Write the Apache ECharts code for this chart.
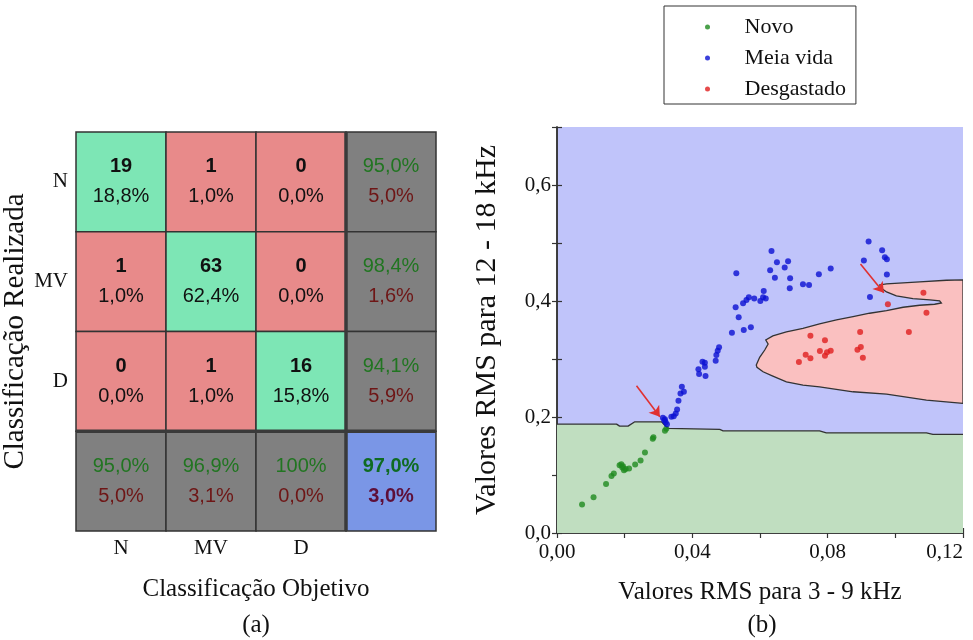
<!DOCTYPE html>
<html>
<head>
<meta charset="utf-8">
<script src="https://cdn.jsdelivr.net/npm/echarts@6/dist/echarts.min.js"></script>
<style>
  html, body { margin: 0; padding: 0; background: #fff; }
  #chart { width: 973px; height: 640px; }
</style>
</head>
<body>
<div id="chart"></div>
<script>
// ---- (a) confusion matrix ----
const classes = ['N', 'MV', 'D'];
const counts = [[19, 1, 0], [1, 63, 0], [0, 1, 16]];
const cellShare = [[18.8, 1.0, 0.0], [1.0, 62.4, 0.0], [0.0, 1.0, 15.8]];
const rowHit = [95.0, 98.4, 94.1];
const rowMiss = [5.0, 1.6, 5.9];
const colHit = [95.0, 96.9, 100];
const colMiss = [5.0, 3.1, 0.0];
const totalHit = 97.0;
const totalMiss = 3.0;

// ---- (b) RMS scatter with decision regions ----
const novoPts = [
  [0.0074, 0.0490], [0.0108, 0.0616], [0.0145, 0.0846], [0.0161, 0.0984], [0.0168, 0.1025],
  [0.0185, 0.1169], [0.0190, 0.1186], [0.0193, 0.1129], [0.0198, 0.1083], [0.0203, 0.1105],
  [0.0213, 0.1112], [0.0231, 0.1181], [0.0247, 0.1250], [0.0260, 0.1388], [0.0283, 0.1623],
  [0.0285, 0.1653], [0.0319, 0.1761], [0.0323, 0.1796], [0.0195, 0.1150]
];
const meiaVidaPts = [
  [0.0313, 0.1986], [0.0317, 0.1946], [0.0321, 0.1911], [0.0325, 0.1877], [0.0319, 0.1960],
  [0.0338, 0.2003], [0.0345, 0.2015], [0.0351, 0.2062], [0.0355, 0.2131], [0.0359, 0.2279],
  [0.0365, 0.2407], [0.0369, 0.2521], [0.0375, 0.2435],
  [0.0418, 0.2822], [0.0420, 0.2740], [0.0430, 0.2953], [0.0437, 0.2936], [0.0437, 0.2866], [0.0439, 0.2706],
  [0.0469, 0.2970], [0.0471, 0.3068], [0.0475, 0.3143], [0.0479, 0.3201],
  [0.0517, 0.3454], [0.0528, 0.3892], [0.0530, 0.4479], [0.0537, 0.3719],
  [0.0552, 0.3500], [0.0573, 0.3547], [0.0550, 0.3961], [0.0560, 0.4018], [0.0567, 0.4065],
  [0.0583, 0.4041], [0.0601, 0.4001], [0.0609, 0.4065], [0.0611, 0.4174], [0.0617, 0.4041],
  [0.0634, 0.4864], [0.0630, 0.4531], [0.0644, 0.4403], [0.0650, 0.4669], [0.0673, 0.4576],
  [0.0683, 0.4687], [0.0689, 0.4393], [0.0688, 0.4220], [0.0727, 0.4289], [0.0745, 0.4277],
  [0.0774, 0.4462], [0.0809, 0.4559],
  [0.0907, 0.4697], [0.0921, 0.5025], [0.0925, 0.4070], [0.0961, 0.4877], [0.0969, 0.4756],
  [0.0975, 0.4721], [0.0975, 0.4455]
];
const desgastadoPts = [
  [0.0715, 0.2948], [0.0735, 0.3074], [0.0749, 0.3402], [0.0749, 0.3011], [0.0777, 0.3138],
  [0.0792, 0.3322], [0.0792, 0.3057], [0.0798, 0.3115], [0.0809, 0.3143], [0.0888, 0.3160],
  [0.0896, 0.3466], [0.0898, 0.3207], [0.0904, 0.3022], [0.0978, 0.3944], [0.1040, 0.3466],
  [0.1083, 0.4144], [0.1092, 0.3799]
];
// upper edge of the "Novo" decision region
const novoBoundary = [
  [0, 0.1877], [0.0176, 0.1877], [0.0185, 0.1842], [0.0210, 0.1842], [0.0230, 0.1917],
  [0.0309, 0.1917], [0.0328, 0.1803], [0.0481, 0.1785], [0.0491, 0.1761], [0.0776, 0.1761],
  [0.0796, 0.1727], [0.1092, 0.1727], [0.1111, 0.1699], [0.12, 0.1699]
];
// outline of the "Desgastado" decision region
const desgastadoRegion = [
  [0.1200, 0.2234], [0.1092, 0.2291], [0.0974, 0.2395], [0.0875, 0.2435], [0.0776, 0.2521],
  [0.0727, 0.2550], [0.0678, 0.2607], [0.0638, 0.2706], [0.0609, 0.2780], [0.0591, 0.2856],
  [0.0589, 0.2896], [0.0599, 0.3029], [0.0614, 0.3155], [0.0624, 0.3258], [0.0617, 0.3328],
  [0.0638, 0.3397], [0.0678, 0.3466], [0.0727, 0.3529], [0.0776, 0.3604], [0.0826, 0.3673],
  [0.0875, 0.3730], [0.0924, 0.3789], [0.0974, 0.3834], [0.1023, 0.3892], [0.1072, 0.3927],
  [0.1116, 0.3944], [0.1136, 0.3966], [0.1131, 0.4001], [0.1102, 0.4018], [0.1052, 0.4041],
  [0.1003, 0.4087], [0.0974, 0.4156], [0.0959, 0.4220], [0.0954, 0.4277], [0.0974, 0.4294],
  [0.1072, 0.4329], [0.1151, 0.4358], [0.1200, 0.4364]
];
const arrowSegments = [
  [[0.0235, 0.2538], [0.0304, 0.2003]],
  [[0.0897, 0.4640], [0.0966, 0.4144]]
];

const SERIF = "'Liberation Serif', 'Times New Roman', serif";
const SANS = "'Liberation Sans', Arial, Helvetica, sans-serif";

const C_GOOD = '#7de6b5', C_BAD = '#e88a8a', C_SUM = '#808080', C_TOTAL = '#7a96e6';
const T_GREEN = '#217521', T_RED = '#6e1616';

function pct(v) {
  return (v === 100 ? '100' : v.toFixed(1).replace('.', ',')) + '%';
}

// one record per matrix cell (row-major, 4x4 including the summaries)
const cells = [];
for (let r = 0; r < 4; r++) {
  for (let c = 0; c < 4; c++) {
    let cell;
    if (r < 3 && c < 3) {
      cell = {
        fill: r === c ? C_GOOD : C_BAD,
        top: String(counts[r][c]), topColor: '#111', topBold: true,
        bottom: pct(cellShare[r][c]), bottomColor: '#111', bottomBold: false
      };
    } else if (r < 3) {
      cell = { fill: C_SUM, top: pct(rowHit[r]), topColor: T_GREEN, topBold: false,
               bottom: pct(rowMiss[r]), bottomColor: T_RED, bottomBold: false };
    } else if (c < 3) {
      cell = { fill: C_SUM, top: pct(colHit[c]), topColor: T_GREEN, topBold: false,
               bottom: pct(colMiss[c]), bottomColor: T_RED, bottomBold: false };
    } else {
      cell = { fill: C_TOTAL, top: pct(totalHit), topColor: '#0f6b22', topBold: true,
               bottom: pct(totalMiss), bottomColor: '#5e0f38', bottomBold: true };
    }
    cell.value = [c, r];
    cells.push(cell);
  }
}

function xTickLabel(v) {
  return Math.round(v * 100) % 4 === 0 ? v.toFixed(2).replace('.', ',') : '';
}
function yTickLabel(v) {
  return Math.round(v * 10) % 2 === 0 ? v.toFixed(1).replace('.', ',') : '';
}

const axisLine = { show: true, lineStyle: { color: '#333', width: 1.5 } };
const tickIn = { show: true, inside: true, length: 5, lineStyle: { color: '#333', width: 1.2 } };

const chart = echarts.init(document.getElementById('chart'), null, { renderer: 'canvas' });

const option = {
  animation: false,
  backgroundColor: '#fff',
  grid: [
    { left: 76, top: 132, width: 360, height: 399, containLabel: false, outerBoundsMode: 'none' },
    { left: 557, top: 127, width: 406, height: 406, containLabel: false, outerBoundsMode: 'none',
      show: true, backgroundColor: '#c0c4fa', borderWidth: 0 }
  ],
  legend: {
    data: ['Novo', 'Meia vida', 'Desgastado'],
    orient: 'vertical',
    left: 664, top: 6,
    padding: [10, 10, 4, 41],
    itemWidth: 64, itemHeight: 5, itemGap: 9,
    icon: 'circle',
    borderColor: '#333', borderWidth: 1,
    textStyle: { fontFamily: SERIF, fontSize: 22, color: '#111', lineHeight: 22 }
  },
  xAxis: [
    {
      gridIndex: 0, type: 'category', data: classes.concat(['']),
      axisLine: { show: false }, axisTick: { show: false }, splitLine: { show: false },
      axisLabel: { margin: 7, fontFamily: SERIF, fontSize: 21, color: '#111' },
      name: 'Classificação Objetivo', nameLocation: 'middle', nameGap: 46,
      nameTextStyle: { fontFamily: SERIF, fontSize: 25, color: '#111' }
    },
    {
      gridIndex: 1, type: 'value', min: 0, max: 0.12, interval: 0.02, position: 'bottom',
      axisLine: axisLine, axisTick: tickIn, splitLine: { show: false },
      axisLabel: { margin: 9, fontFamily: SERIF, fontSize: 21, color: '#111', formatter: xTickLabel,
                   showMinLabel: true, showMaxLabel: true, hideOverlap: false, alignMaxLabel: 'right' },
      name: 'Valores RMS para 3 - 9 kHz', nameLocation: 'middle', nameGap: 47,
      nameTextStyle: { fontFamily: SERIF, fontSize: 25, color: '#111' }
    },
    {
      gridIndex: 1, type: 'value', min: 0, max: 0.12, interval: 0.02, position: 'top',
      axisLine: axisLine, axisTick: tickIn, splitLine: { show: false }, axisLabel: { show: false }
    }
  ],
  yAxis: [
    {
      gridIndex: 0, type: 'category', data: classes.concat(['']), inverse: true,
      axisLine: { show: false }, axisTick: { show: false }, splitLine: { show: false },
      axisLabel: { margin: 8, fontFamily: SERIF, fontSize: 21, color: '#111', padding: [9, 0, 0, 0] },
      name: 'Classificação Realizada', nameLocation: 'middle', nameGap: 36, nameRotate: 90,
      nameTextStyle: { fontFamily: SERIF, fontSize: 29, color: '#111' }
    },
    {
      gridIndex: 1, type: 'value', min: 0, max: 0.7, interval: 0.1, position: 'left',
      axisLine: axisLine, axisTick: tickIn, splitLine: { show: false },
      axisLabel: { margin: 6, fontFamily: SERIF, fontSize: 21, color: '#111', formatter: yTickLabel,
                   showMinLabel: true, hideOverlap: false },
      name: 'Valores RMS para 12 - 18 kHz', nameLocation: 'middle', nameGap: 55, nameRotate: 90,
      nameTextStyle: { fontFamily: SERIF, fontSize: 30, color: '#111' }
    },
    {
      gridIndex: 1, type: 'value', min: 0, max: 0.7, interval: 0.1, position: 'right',
      axisLine: axisLine, axisTick: tickIn, splitLine: { show: false }, axisLabel: { show: false }
    }
  ],
  graphic: [
    { type: 'text', x: 256, y: 625,
      style: { text: '(a)', fontFamily: SERIF, fontSize: 25, fill: '#111', align: 'center', verticalAlign: 'middle' } },
    { type: 'text', x: 762, y: 625,
      style: { text: '(b)', fontFamily: SERIF, fontSize: 25, fill: '#111', align: 'center', verticalAlign: 'middle' } }
  ],
  series: [
    // matrix cells
    {
      type: 'custom', name: 'matriz', xAxisIndex: 0, yAxisIndex: 0, silent: true,
      data: cells.map(c => c.value),
      renderItem: function (params, api) {
        const cell = cells[params.dataIndex];
        const ctr = api.coord([api.value(0), api.value(1)]);
        const sz = api.size([1, 1]);
        return {
          type: 'group',
          children: [
            { type: 'rect',
              shape: { x: ctr[0] - sz[0] / 2, y: ctr[1] - sz[1] / 2, width: sz[0], height: sz[1] },
              style: { fill: cell.fill, stroke: '#333', lineWidth: 1.5 } },
            { type: 'text', x: ctr[0], y: ctr[1] - 15,
              style: { text: cell.top, fill: cell.topColor, fontFamily: SANS, fontSize: 20,
                       fontWeight: cell.topBold ? 'bold' : 'normal', align: 'center', verticalAlign: 'middle' } },
            { type: 'text', x: ctr[0], y: ctr[1] + 15,
              style: { text: cell.bottom, fill: cell.bottomColor, fontFamily: SANS, fontSize: 20,
                       fontWeight: cell.bottomBold ? 'bold' : 'normal', align: 'center', verticalAlign: 'middle' } }
          ]
        };
      }
    },
    // heavier separators before the summary row / column
    {
      type: 'custom', name: 'separadores', xAxisIndex: 0, yAxisIndex: 0, silent: true, z: 5,
      data: [[3, 3]],
      renderItem: function (params, api) {
        const ctr = api.coord([3, 3]);
        const sz = api.size([1, 1]);
        const cs = params.coordSys;
        const xs = ctr[0] - sz[0] / 2, ys = ctr[1] - sz[1] / 2;
        const st = { stroke: '#3a3a3a', lineWidth: 3.5 };
        return {
          type: 'group',
          children: [
            { type: 'line', shape: { x1: xs, y1: cs.y, x2: xs, y2: cs.y + cs.height }, style: st },
            { type: 'line', shape: { x1: cs.x, y1: ys, x2: cs.x + cs.width, y2: ys }, style: st }
          ]
        };
      }
    },
    // Novo decision region
    {
      type: 'line', name: 'regiaoNovo', xAxisIndex: 1, yAxisIndex: 1, silent: true, z: 1,
      data: novoBoundary, symbol: 'none',
      lineStyle: { color: '#333', width: 1.3 },
      areaStyle: { color: '#c0dec0', opacity: 1, origin: 'start' }
    },
    // Desgastado decision region
    {
      type: 'custom', name: 'regiaoDesgastado', xAxisIndex: 1, yAxisIndex: 1, silent: true, z: 1,
      clip: true,
      data: [[0, 0]],
      renderItem: function (params, api) {
        return {
          type: 'polygon',
          shape: { points: desgastadoRegion.map(p => api.coord(p)) },
          style: { fill: '#fac0c0', stroke: '#333', lineWidth: 1.3 }
        };
      }
    },
    {
      type: 'scatter', name: 'Novo', xAxisIndex: 1, yAxisIndex: 1, z: 3,
      data: novoPts, symbolSize: 6, itemStyle: { color: '#1e8a1e' }
    },
    {
      type: 'scatter', name: 'Meia vida', xAxisIndex: 1, yAxisIndex: 1, z: 3,
      data: meiaVidaPts, symbolSize: 6, itemStyle: { color: '#0a10d2' }
    },
    {
      type: 'scatter', name: 'Desgastado', xAxisIndex: 1, yAxisIndex: 1, z: 3,
      data: desgastadoPts, symbolSize: 6, itemStyle: { color: '#e01e1e' }
    },
    {
      type: 'lines', name: 'setas', coordinateSystem: 'cartesian2d', xAxisIndex: 1, yAxisIndex: 1,
      silent: true, z: 4,
      symbol: ['none', 'arrow'], symbolSize: 10,
      lineStyle: { color: '#e03030', width: 1.6, opacity: 1 },
      data: arrowSegments.map(s => ({ coords: s }))
    }
  ]
};

chart.setOption(option);
</script>
</body>
</html>
